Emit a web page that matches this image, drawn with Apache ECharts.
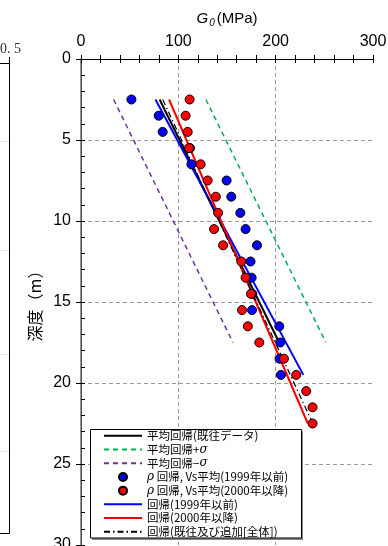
<!DOCTYPE html>
<html>
<head>
<meta charset="utf-8">
<script src="https://cdn.jsdelivr.net/npm/echarts@6/dist/echarts.min.js"></script>
<style>
html,body{margin:0;padding:0;background:#fff;}
#chart{width:388px;height:546px;}
</style>
</head>
<body>
<div id="chart"></div>
<script>
// ---- data (G0 in MPa vs depth in m) ----
const depth1999 = [2.5,3.5,4.5,5.5,6.5,7.5,8.5,9.5,10.5,11.5,12.5,13.5,14.5,15.5,16.5,17.5,18.5,19.5];
const g1999 = [51.8,79.8,83.9,112,113.4,149.6,154.4,163.7,169.1,180.8,174.2,175.3,176,175.7,203.7,204.7,204,205.4];
const depth2000 = [2.5,3.5,4.5,5.5,6.5,7.5,8.5,9.5,10.5,11.5,12.5,13.5,14.5,15.5,16.5,17.5,18.5,19.5,20.5,21.5,22.5];
const g2000 = [111.6,107.5,109.6,111,122.9,130.1,138.5,140.9,136.7,146,164.7,169.1,174.6,165.4,171.4,183.2,208.5,221.1,231.4,237.9,237.9];

const meanDepth = [2.5, 17.5];
const meanG = [80.8, 203.6];
const plusSigmaG = [128.3, 251.6];
const minusSigmaG = [33.5, 156.1];
const reg1999Depth = [2.5, 19.5];
const reg1999G = [76.5, 228.4];
const reg2000Depth = [2.5, 22.5];
const reg2000G = [90.5, 233.0];
const regAllDepth = [2.5, 22.4];
const regAllG = [84.0, 237.4];

const xTicks = [0, 100, 200, 300];
const yTicks = [0, 5, 10, 15, 20, 25, 30];

const names = [
  '平均回帰(既往データ)',
  '平均回帰+σ',
  '平均回帰−σ',
  'ρ 回帰, Vs平均(1999年以前)',
  'ρ 回帰, Vs平均(2000年以降)',
  '回帰(1999年以前)',
  '回帰(2000年以降)',
  '回帰(既往及び追加[全体])'
];

function pairs(xs, ys) { return xs.map((x, i) => [x, ys[i]]); }

const CJK = '"Noto Sans CJK JP", "Noto Sans", sans-serif';

function lineSeries(name, gs, ds, color, width, type, z) {
  return {
    name: name, type: 'line', data: pairs(gs, ds),
    xAxisIndex: 0, yAxisIndex: 0,
    symbol: 'none', showSymbol: false, z: z || 2,
    lineStyle: { color: color, width: width, type: type },
    itemStyle: { color: 'rgba(0,0,0,0)', borderColor: 'rgba(0,0,0,0)', borderWidth: 0 },
    emphasis: { disabled: true }, silent: true
  };
}

const chart = echarts.init(document.getElementById('chart'), null, { renderer: 'canvas' });

const option = {
  animation: false,
  backgroundColor: '#fff',
  grid: { left: 81, right: 15, top: 59, bottom: 1, containLabel: false, outerBoundsMode: 'none' },
  xAxis: [
    {
      type: 'value', position: 'top', min: 0, max: 300, interval: 100,
      axisLine: { show: true, lineStyle: { color: '#000', width: 1 } },
      axisTick: { show: true, length: 4, lineStyle: { color: '#000' } },
      axisLabel: { show: true, margin: 9, fontSize: 16, color: '#000', fontFamily: '"Liberation Sans", Arial, sans-serif',
        formatter: v => xTicks.includes(v) ? String(v) : '' },
      splitLine: { show: true, showMinLine: false, showMaxLine: false, lineStyle: { color: '#9a9a9a', type: [4, 3], width: 1 } }
    },
    {
      type: 'value', position: 'top', min: 0, max: 300, interval: 20,
      axisLine: { show: false },
      axisTick: { show: true, inside: true, length: 4, lineStyle: { color: '#000' } },
      axisLabel: { show: false }, splitLine: { show: false }
    },
    {
      type: 'value', position: 'bottom', min: 0, max: 300, interval: 20,
      axisLine: { show: true, lineStyle: { color: '#000', width: 1 } },
      axisTick: { show: true, inside: true, length: 4, lineStyle: { color: '#000' } },
      axisLabel: { show: false }, splitLine: { show: false }
    }
  ],
  yAxis: [
    {
      type: 'value', inverse: true, position: 'left', min: 0, max: 30, interval: 5,
      axisLine: { show: true, lineStyle: { color: '#000', width: 1 } },
      axisTick: { show: true, length: 5, lineStyle: { color: '#000' } },
      axisLabel: { show: true, margin: 10, fontSize: 16, color: '#000', fontFamily: '"Liberation Sans", Arial, sans-serif',
        formatter: v => yTicks.includes(v) ? String(v) : '' },
      splitLine: { show: true, showMinLine: false, showMaxLine: false, lineStyle: { color: '#9a9a9a', type: [4, 3], width: 1 } }
    },
    {
      type: 'value', inverse: true, position: 'left', min: 0, max: 30, interval: 1,
      axisLine: { show: false },
      axisTick: { show: true, inside: true, length: 4, lineStyle: { color: '#000' } },
      axisLabel: { show: false }, splitLine: { show: false }
    },
    {
      type: 'value', inverse: true, position: 'right', min: 0, max: 30, interval: 5,
      axisLine: { show: true, lineStyle: { color: '#6e6e6e', width: 1.5 } },
      axisTick: { show: false }, axisLabel: { show: false }, splitLine: { show: false }
    }
  ],
  legend: {
    orient: 'vertical', left: 103, top: 429, padding: 0, itemGap: 0,
    itemWidth: 38, itemHeight: 8, z: 10,
    data: names,
    selectedMode: false,
    textStyle: { fontSize: 11.5, lineHeight: 13.7, color: '#000', fontFamily: CJK,
      rich: {
        i: { fontStyle: 'italic', fontSize: 12, lineHeight: 13.7, fontFamily: '"DejaVu Serif", serif', color: '#000' },
        n: { fontSize: 11.5, lineHeight: 13.7, fontFamily: CJK, color: '#000' }
      } },
    formatter: function (name) {
      return name.split(/([σρ])/).filter(s => s.length).map(s =>
        (s === 'σ' || s === 'ρ') ? '{i|' + s + '}' : '{n|' + s + '}').join('');
    }
  },
  graphic: [
    // remnant of neighbouring chart at left edge
    { type: 'line', z: 1, shape: { x1: 0, y1: 63.5, x2: 9.5, y2: 63.5 }, style: { stroke: '#000', lineWidth: 1 } },
    { type: 'line', z: 1, shape: { x1: 9.5, y1: 57, x2: 9.5, y2: 533.5 }, style: { stroke: '#000', lineWidth: 1 } },
    { type: 'line', z: 1, shape: { x1: 0, y1: 533.5, x2: 9.5, y2: 533.5 }, style: { stroke: '#000', lineWidth: 1 } },
    { type: 'line', z: 1, shape: { x1: 0, y1: 141.5, x2: 9, y2: 141.5 }, style: { stroke: '#e4e4e4', lineWidth: 1 } },
    { type: 'line', z: 1, shape: { x1: 0, y1: 250.5, x2: 9, y2: 250.5 }, style: { stroke: '#e4e4e4', lineWidth: 1 } },
    { type: 'line', z: 1, shape: { x1: 0, y1: 354.5, x2: 9, y2: 354.5 }, style: { stroke: '#e4e4e4', lineWidth: 1 } },
    { type: 'line', z: 1, shape: { x1: 0, y1: 451.5, x2: 9, y2: 451.5 }, style: { stroke: '#e4e4e4', lineWidth: 1 } },
    { type: 'text', z: 1, x: 21, y: 49, style: { text: '0. 5', fill: '#333', font: '14px "Liberation Serif", "DejaVu Serif", serif', textAlign: 'right', textVerticalAlign: 'middle' } },
    // axis titles
    { type: 'text', z: 5, x: 227, y: 19,
      style: { text: '{g|G}{s|0}{t|(MPa)}', textAlign: 'center', textVerticalAlign: 'middle',
        rich: {
          g: { fontSize: 15, fontStyle: 'italic', fontFamily: '"Liberation Sans", Arial, sans-serif', fill: '#000', color: '#000' },
          s: { fontSize: 10, fontStyle: 'italic', fontFamily: '"Liberation Sans", Arial, sans-serif', fill: '#000', color: '#000', padding: [8, 0, 0, 1] },
          t: { fontSize: 15, fontFamily: '"Liberation Sans", Arial, sans-serif', fill: '#000', color: '#000', padding: [0, 0, 0, 2] }
        } } },
    { type: 'text', z: 5, x: 35, y: 302, rotation: Math.PI / 2,
      style: { text: '深度（m）', fill: '#000', font: '16px ' + CJK, textAlign: 'center', textVerticalAlign: 'middle' } },
    // legend frame
    { type: 'rect', z: 8, shape: { x: 92, y: 431, width: 211, height: 109 }, style: { fill: '#8a8a8a' } },
    { type: 'rect', z: 9, shape: { x: 90.5, y: 429.5, width: 211, height: 108.5 }, style: { fill: '#fff', stroke: '#000', lineWidth: 1 } }
  ],
  series: [
    lineSeries(names[0], meanG, meanDepth, '#000000', 2, 'solid', 3),
    lineSeries(names[1], plusSigmaG, meanDepth, '#00b050', 1.5, [5, 4], 3),
    lineSeries(names[2], minusSigmaG, meanDepth, '#7030a0', 1.5, [5, 4], 3),
    {
      name: names[3], type: 'scatter', data: pairs(g1999, depth1999),
      xAxisIndex: 0, yAxisIndex: 0, symbol: 'circle', symbolSize: 9, z: 5,
      itemStyle: { color: '#0000ff', borderColor: '#000', borderWidth: 1, opacity: 1 }, silent: true
    },
    {
      name: names[4], type: 'scatter', data: pairs(g2000, depth2000),
      xAxisIndex: 0, yAxisIndex: 0, symbol: 'circle', symbolSize: 9, z: 6,
      itemStyle: { color: '#ff0000', borderColor: '#000', borderWidth: 1, opacity: 1 }, silent: true
    },
    lineSeries(names[5], reg1999G, reg1999Depth, '#0000ff', 2, 'solid', 3),
    lineSeries(names[6], reg2000G, reg2000Depth, '#ff0000', 2, 'solid', 3),
    lineSeries(names[7], regAllG, regAllDepth, '#000000', 1.2, [6, 3, 1.5, 3], 4)
  ]
};

chart.setOption(option);
</script>
</body>
</html>
